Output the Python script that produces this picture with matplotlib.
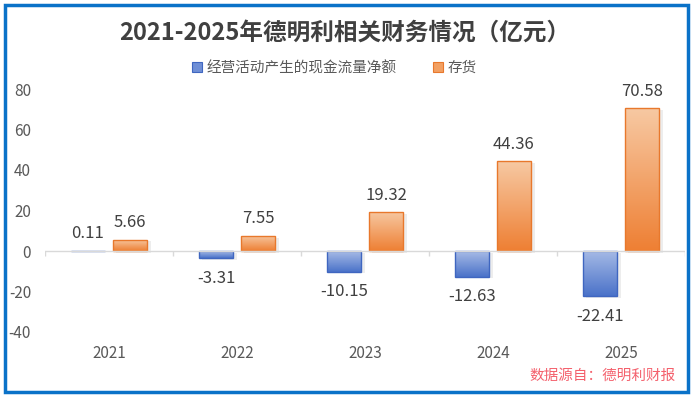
import numpy as np
import matplotlib
matplotlib.use("Agg")
import matplotlib.pyplot as plt
from matplotlib.patches import Patch, Rectangle
from matplotlib.colors import LinearSegmentedColormap

plt.rcParams['font.family'] = ['Noto Sans CJK SC', 'DejaVu Sans']
plt.rcParams['axes.unicode_minus'] = False

years = ['2021', '2022', '2023', '2024', '2025']
cashflow = [0.11, -3.31, -10.15, -12.63, -22.41]
inventory = [5.66, 7.55, 19.32, 44.36, 70.58]
series_names = ['经营活动产生的现金流量净额', '存货']
title = '2021-2025年德明利相关财务情况（亿元）'
source = '数据源自：德明利财报'
yticks = [-40, -20, 0, 20, 40, 60, 80]

W, H = 693, 399
fig = plt.figure(figsize=(W / 100, H / 100), dpi=100)
ax = fig.add_axes([45 / W, 1 - 332 / H, 640 / W, 243 / H])

x = np.arange(len(years))
bw = 0.273
off = 0.164

blue_cmap = LinearSegmentedColormap.from_list('b', ['#a7bbe6', '#4a72c9'])
orange_cmap = LinearSegmentedColormap.from_list('o', ['#f7c9a3', '#ee7f33'])
grad = np.linspace(0, 1, 256).reshape(-1, 1)

def grad_bars(xs, vals, cmap, edge):
    bars = ax.bar(xs, vals, width=bw, facecolor='none', edgecolor=edge,
                  linewidth=1.0, zorder=3)
    for b in bars:
        x0, y0 = b.get_x(), b.get_y()
        w, h = b.get_width(), b.get_height()
        ylo, yhi = min(y0, y0 + h), max(y0, y0 + h)
        if yhi - ylo < 1e-9:
            continue
        sh = Rectangle((x0 + 0.025, ylo - 0.9), w, yhi - ylo, facecolor='#000000',
                       alpha=0.07, edgecolor='none', zorder=1)
        ax.add_patch(sh)
        im = ax.imshow(grad, extent=[x0, x0 + w, ylo, yhi], origin='upper',
                       aspect='auto', cmap=cmap, zorder=2, interpolation='bilinear')
        im.set_clip_path(b)
    return bars

grad_bars(x - off, cashflow, blue_cmap, '#3f66c0')
grad_bars(x + off, inventory, orange_cmap, '#e8782c')

ax.set_xlim(-0.5, len(years) - 0.5)
ax.set_ylim(-40, 80)
ax.set_aspect('auto')

ax.axhline(0, color='#d9d9d9', lw=1.0, zorder=4)
bounds = np.arange(len(years) + 1) - 0.5
ax.vlines(bounds, -2.6, 0, color='#d9d9d9', lw=1.0, zorder=4)

lab_col = '#404040'
for xi, v in zip(x - off, cashflow):
    if v >= 0:
        ax.annotate(f'{v:.2f}', (xi, v), xytext=(0, 6), textcoords='offset points',
                    ha='center', va='bottom', fontsize=12, color=lab_col)
    else:
        ax.annotate(f'{v:.2f}', (xi, v), xytext=(0, -8.5), textcoords='offset points',
                    ha='center', va='top', fontsize=12, color=lab_col)
for xi, v in zip(x + off, inventory):
    ax.annotate(f'{v:.2f}', (xi, v), xytext=(0, 6), textcoords='offset points',
                ha='center', va='bottom', fontsize=12, color=lab_col)

for s in ax.spines.values():
    s.set_visible(False)
ax.set_xticks(x)
ax.set_xticklabels(years)
ax.set_yticks(yticks)
ax.set_yticklabels([str(t) for t in yticks])
ax.tick_params(axis='x', length=0, pad=9, labelsize=11, labelcolor='#595959')
ax.tick_params(axis='y', length=0, pad=10, labelsize=11, labelcolor='#595959')

fig.text(345 / W, 1 - 33 / H, title, ha='center', va='center', fontsize=17,
         fontweight='bold', color='#404040')

handles = [Patch(facecolor='#6f8fd6', edgecolor='#3f66c0', lw=0.8),
           Patch(facecolor='#f2a062', edgecolor='#e8782c', lw=0.8)]
fig.legend(handles, series_names, loc='center', bbox_to_anchor=(334 / W, 1 - 68 / H),
           ncol=2, frameon=False, fontsize=10.5, labelcolor='#595959',
           handlelength=0.7, handleheight=0.7, handletextpad=0.3, columnspacing=2.5)

fig.text(676 / W, 1 - 376 / H, source, ha='right', va='center', fontsize=10.5,
         color='#f4606c')

border = Rectangle((4.5 / W, 1 - 392 / H), 683 / W, 387 / H, transform=fig.transFigure,
                   fill=False, edgecolor='#0a72c8', lw=2.5)
fig.add_artist(border)

fig.savefig('out.png', dpi=100)
